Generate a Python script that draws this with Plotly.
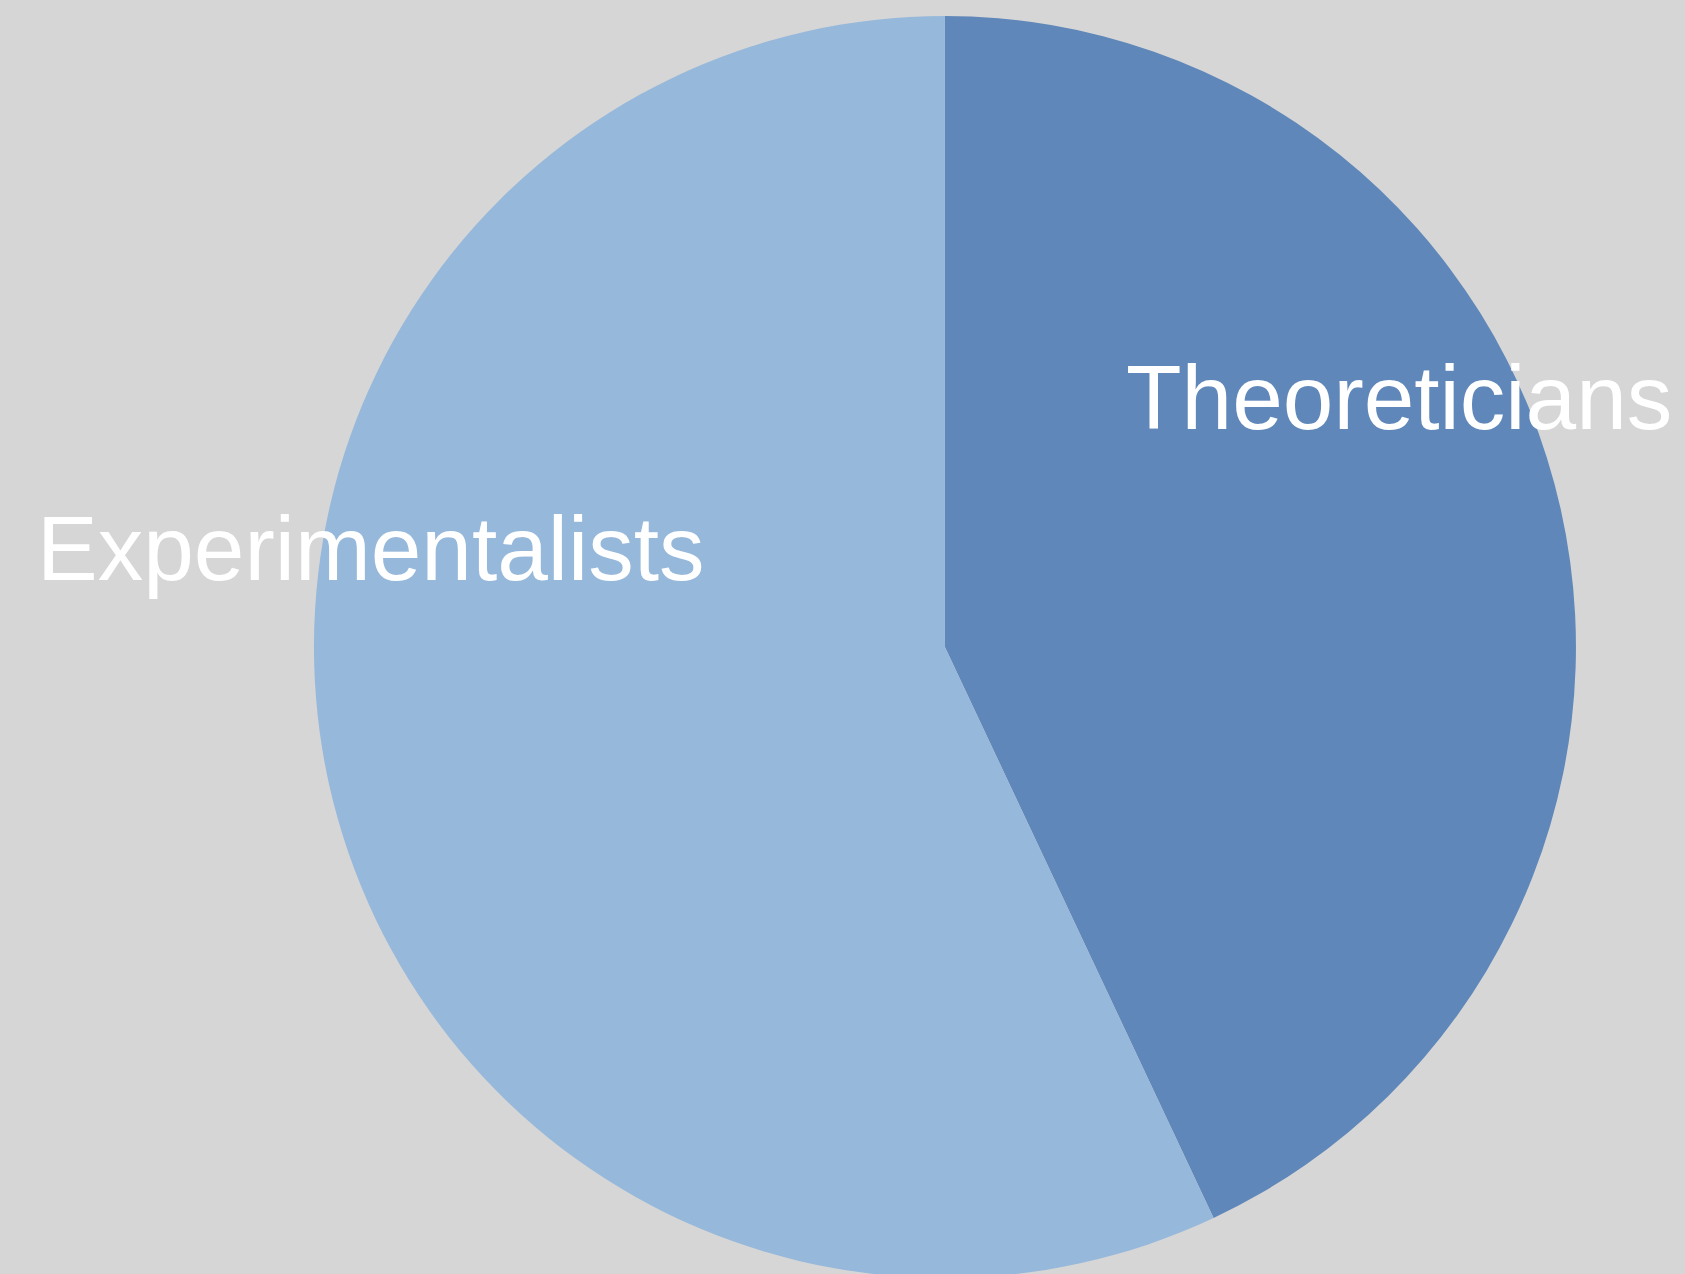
import plotly.graph_objects as go

# pie data
labels = ['Theoreticians', 'Experimentalists']
values = [43, 57]
colors = ['#5f87b9', '#96b8db']

W, H = 1685, 1278   # a touch taller than the window: the pie is cut at the bottom

fig = go.Figure()
fig.add_trace(go.Pie(
    labels=labels,
    values=values,
    sort=False,
    direction='clockwise',
    rotation=0,
    textinfo='none',
    hoverinfo='label+percent',
    marker=dict(colors=colors, line=dict(width=0)),
    domain=dict(x=[0.1216, 1.0], y=[0, 1]),
    showlegend=False,
))

# labels are drawn as free text, like in the original
label_pos = {'Theoreticians': (1124, 386),
             'Experimentalists': (35, 539)}
for name in labels:
    px, py = label_pos[name]
    fig.add_annotation(x=px / W, y=1 - py / H, xref='paper', yref='paper', text=name,
                       showarrow=False, xanchor='left', yanchor='middle',
                       font=dict(size=91, color='white',
                                 family='Liberation Sans, Arial, sans-serif'))

fig.update_layout(
    width=W, height=H,
    margin=dict(l=0, r=0, t=16, b=0),
    paper_bgcolor='#d6d6d6',
    plot_bgcolor='#d6d6d6',
)

# drop the default body margin so the figure fills the window, no scrollbars
js = ("document.body.style.margin='0px';"
      "document.body.style.overflow='hidden';"
      "document.documentElement.style.overflow='hidden';")
fig.write_html("out.html", config={'displayModeBar': False}, post_script=js)
